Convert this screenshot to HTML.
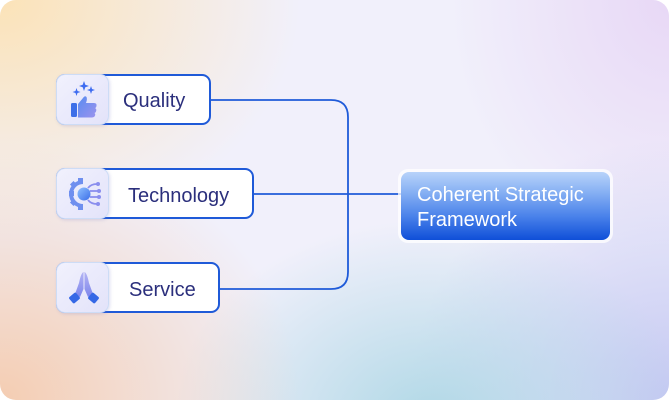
<!DOCTYPE html>
<html><head><meta charset="utf-8"><style>
html,body{margin:0;padding:0;background:#fff;}
body{width:669px;height:400px;position:relative;overflow:hidden;font-family:"Liberation Sans",Arial,sans-serif;}
.bg{position:absolute;left:0;top:0;width:669px;height:400px;border-radius:16px;overflow:hidden;
background:
radial-gradient(ellipse 300px 240px at 0px 0px, rgba(252,226,180,0.95), rgba(252,226,180,0) 100%),
radial-gradient(ellipse 300px 260px at 0px 400px, rgba(244,205,178,1), rgba(244,205,178,0) 100%),
radial-gradient(ellipse 260px 200px at 430px 420px, rgba(176,216,230,1), rgba(176,216,230,0) 100%),
radial-gradient(ellipse 260px 260px at 669px 400px, rgba(196,200,242,1), rgba(196,200,242,0) 100%),
radial-gradient(ellipse 220px 260px at 669px 0px, rgba(232,216,246,1), rgba(232,216,246,0) 100%),
#f1f0fb;}
.node{position:absolute;background:#fff;border:2px solid #1f5ad8;border-radius:9px;box-sizing:border-box;}
.icon{position:absolute;left:-2px;top:-2px;bottom:-2px;width:53px;box-sizing:border-box;border:1.6px solid #cddcf6;border-radius:9px;background:linear-gradient(135deg,#f1f1fd,#e3e3fa);box-shadow:1px 1px 3px rgba(120,120,200,0.25);}
.icon svg{position:absolute;left:0;top:0;}
.lbl{position:absolute;font-size:20px;color:#2b2f7c;line-height:20px;white-space:nowrap;}
.target{position:absolute;left:398px;top:169px;width:215px;height:74px;box-sizing:border-box;border-radius:10px;background:rgba(255,255,255,0.75);padding:3px;}
.target .in{width:100%;height:100%;border-radius:8px;background:linear-gradient(180deg,#b8d3fa 0%,#86b0f3 30%,#4a82ea 65%,#0f4fd8 100%);position:relative;}
.target .t{position:absolute;left:16px;top:11px;font-size:20px;line-height:25px;color:#fff;white-space:nowrap;}
svg.lines{position:absolute;left:0;top:0;}
</style></head><body>
<div class="bg"></div>
<svg class="lines" width="669" height="400">
<path d="M210 100 H331 Q348 100 348 117 V272 Q348 289 331 289 H219" fill="none" stroke="#1f5bd9" stroke-width="1.8"/>
<path d="M253 194 H401" fill="none" stroke="#1f5bd9" stroke-width="1.8"/>
</svg>

<div class="node" style="left:56px;top:74px;width:155px;height:51px;">
  <div class="icon">
    <svg width="53" height="51" viewBox="0 0 53 51">
      <defs><linearGradient id="g1" x1="0" y1="0" x2="1" y2="1"><stop offset="0" stop-color="#5a8cf0"/><stop offset="1" stop-color="#9b93ee"/></linearGradient></defs>
      <path d="M27 6 L28.3 9.7 L32 11 L28.3 12.3 L27 16 L25.7 12.3 L22 11 L25.7 9.7Z" fill="#3e6cf0"/>
      <path d="M19.5 13 L20.5 16 L23.5 17 L20.5 18 L19.5 21 L18.5 18 L15.5 17 L18.5 16Z" fill="#3e6cf0"/>
      <path d="M34 11 L35 14 L38 15 L35 16 L34 19 L33 16 L30 15 L33 14Z" fill="#3e6cf0"/>
      <rect x="14" y="28" width="6" height="14" rx="1.5" fill="#3d6fe8"/>
      <path d="M21 29 L26 23 Q28 20 29.5 22 Q30.5 24 29 28 L37 28 Q40 28 39.5 31 Q39 33 38 33 Q40 34 39 36.5 Q38.5 38 37.5 38 Q39 39.5 37.5 41.5 Q36.5 42.5 34 42.5 L21 42.5Z" fill="url(#g1)"/>
    </svg>
  </div>
  <div class="lbl" style="left:65px;top:15px;">Quality</div>
</div>

<div class="node" style="left:56px;top:168px;width:198px;height:51px;">
  <div class="icon">
    <svg width="53" height="51" viewBox="0 0 53 51">
      <defs><linearGradient id="g2" x1="0" y1="0" x2="1" y2="1"><stop offset="0" stop-color="#8fc0ff"/><stop offset="1" stop-color="#3b6ee8"/></linearGradient></defs>
      <path d="M26 11 A14 14 0 0 0 26 39 L26 35 A10 10 0 0 1 26 15Z" fill="#6f8fef"/>
      <rect x="21" y="9" width="5" height="5" fill="#6f8fef"/>
      <rect x="21" y="36" width="5" height="5" fill="#6f8fef"/>
      <rect x="12" y="22" width="5" height="5" fill="#6f8fef"/>
      <rect x="14" y="13" width="5" height="5" transform="rotate(45 16.5 15.5)" fill="#6f8fef"/>
      <rect x="14" y="31" width="5" height="5" transform="rotate(45 16.5 33.5)" fill="#6f8fef"/>
      <circle cx="27" cy="25" r="6.5" fill="url(#g2)"/>
      <g stroke="#8a8eee" stroke-width="1.8" fill="none">
        <path d="M31 19 Q34 15 40 15"/><path d="M33 22 H41"/><path d="M33 28 H41"/><path d="M31 31 Q34 35 40 35"/>
      </g>
      <g fill="#8a8eee"><circle cx="41" cy="15" r="2"/><circle cx="42" cy="22" r="2"/><circle cx="42" cy="28" r="2"/><circle cx="41" cy="35" r="2"/></g>
    </svg>
  </div>
  <div class="lbl" style="left:70px;top:16px;">Technology</div>
</div>

<div class="node" style="left:56px;top:262px;width:164px;height:51px;">
  <div class="icon">
    <svg width="53" height="51" viewBox="0 0 53 51">
      <defs><linearGradient id="g3" x1="0" y1="0" x2="0" y2="1"><stop offset="0" stop-color="#b4b4f4"/><stop offset="1" stop-color="#7e86ec"/></linearGradient></defs>
      <path d="M26.5 9 Q24 10 22 20 L18 31 L23 34 L26.5 26Z" fill="url(#g3)"/>
      <path d="M27.5 9 Q30 10 32 20 L36 31 L31 34 L27.5 26Z" fill="url(#g3)"/>
      <rect x="13" y="31" width="9" height="8" rx="1.5" transform="rotate(-40 17.5 35)" fill="#3568e6"/>
      <rect x="32" y="31" width="9" height="8" rx="1.5" transform="rotate(40 36.5 35)" fill="#3568e6"/>
    </svg>
  </div>
  <div class="lbl" style="left:71px;top:16px;">Service</div>
</div>

<div class="target"><div class="in"><div class="t">Coherent Strategic<br>Framework</div></div></div>
</body></html>
